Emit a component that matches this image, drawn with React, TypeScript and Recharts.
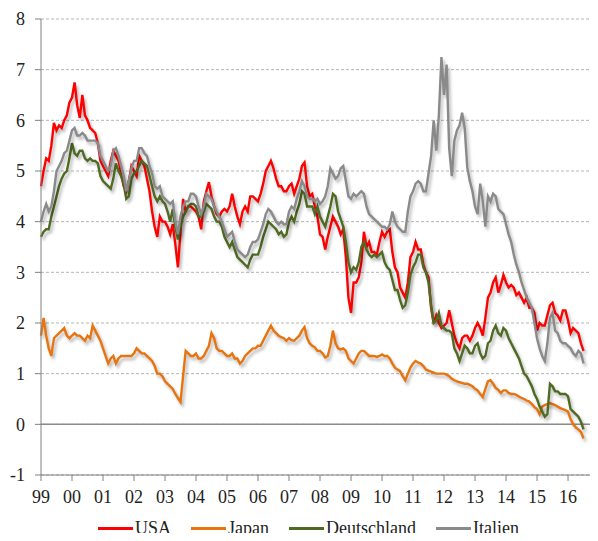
import { LineChart, Line, XAxis, YAxis, CartesianGrid, Legend, ReferenceLine } from 'recharts';

// monthly values, Jan 1999 .. Jul 2016
const usa = [
  4.7, 5.0, 5.25, 5.2, 5.5, 5.95, 5.8, 5.9, 5.85, 6.0, 6.1, 6.35,
  6.45, 6.75, 6.3, 6.05, 6.5, 6.1, 6.0, 5.85, 5.8, 5.75, 5.55, 5.2,
  5.1, 5.0, 4.9, 5.2, 5.4, 5.3, 5.2, 4.95, 4.7, 4.6, 4.8, 5.1,
  5.0, 4.9, 5.3, 5.2, 5.1, 4.85, 4.6, 4.2, 3.9, 3.7, 4.1, 4.0,
  4.0, 3.9, 3.75, 3.95, 3.55, 3.1, 3.8, 4.45, 4.2, 4.3, 4.3, 4.25,
  4.2, 4.1, 3.85, 4.4, 4.6, 4.78, 4.5, 4.3, 4.15, 4.1, 4.2, 4.25,
  4.2, 4.3, 4.55, 4.3, 4.1, 3.95, 4.2, 4.3, 4.2, 4.5, 4.5, 4.45,
  4.4, 4.55, 4.75, 5.0, 5.1, 5.2, 5.05, 4.85, 4.7, 4.7, 4.6, 4.6,
  4.7, 4.75, 4.55, 4.7, 4.85, 5.1, 5.17, 4.7, 4.5, 4.55, 4.3, 4.1,
  3.75, 3.7, 3.45, 3.7, 3.9, 4.1, 4.0, 3.9, 3.75, 3.85, 3.3, 2.5,
  2.2, 2.8, 2.8, 2.9, 3.2, 3.8, 3.5, 3.6, 3.4, 3.4, 3.35, 3.6,
  3.8, 3.7, 3.8, 3.85, 3.4, 3.1, 3.0, 2.7, 2.6, 2.5, 2.8, 3.3,
  3.4, 3.6, 3.45, 3.45, 3.15, 3.0, 2.9, 2.3, 2.0, 2.15, 2.0, 1.9,
  1.95, 2.0, 2.25, 2.0, 1.75, 1.6, 1.5, 1.7, 1.75, 1.75, 1.65, 1.75,
  1.9, 2.0, 1.9, 1.75, 2.1, 2.5, 2.6, 2.8, 2.9, 2.6, 2.75, 2.95,
  2.8, 2.7, 2.75, 2.7, 2.55, 2.6, 2.5, 2.4, 2.5, 2.3, 2.3, 2.2,
  1.85, 2.0, 1.95, 1.95, 2.15, 2.35, 2.4, 2.2, 2.15, 2.05, 2.25, 2.25,
  2.05, 1.8, 1.9, 1.85, 1.8, 1.6, 1.45,
];

const japan = [
  1.75, 2.1, 1.75, 1.5, 1.35, 1.7, 1.75, 1.8, 1.85, 1.9, 1.75, 1.7,
  1.75, 1.8, 1.75, 1.75, 1.7, 1.65, 1.75, 1.7, 1.95, 1.85, 1.75, 1.65,
  1.5, 1.35, 1.2, 1.3, 1.35, 1.2, 1.3, 1.35, 1.35, 1.35, 1.35, 1.35,
  1.4, 1.5, 1.45, 1.4, 1.4, 1.35, 1.3, 1.25, 1.15, 1.0, 1.0, 0.95,
  0.85, 0.8, 0.75, 0.7, 0.6, 0.52, 0.44, 0.95, 1.45, 1.4, 1.35, 1.35,
  1.4, 1.3, 1.3, 1.35, 1.45, 1.55, 1.8, 1.7, 1.5, 1.45, 1.45, 1.4,
  1.35, 1.35, 1.4, 1.3, 1.3, 1.2, 1.25, 1.35, 1.4, 1.45, 1.5, 1.5,
  1.55, 1.55, 1.65, 1.75, 1.85, 1.95, 1.85, 1.8, 1.75, 1.72, 1.7, 1.65,
  1.7, 1.66, 1.65, 1.7, 1.75, 1.85, 1.92, 1.7, 1.6, 1.55, 1.52, 1.45,
  1.45, 1.4, 1.32, 1.35, 1.55, 1.85, 1.6, 1.5, 1.48, 1.5, 1.45, 1.3,
  1.25, 1.2, 1.3, 1.4, 1.45, 1.45, 1.4, 1.35, 1.35, 1.35, 1.33, 1.35,
  1.38, 1.35, 1.35, 1.3, 1.2, 1.12, 1.08, 1.05, 0.95, 0.87, 1.0, 1.12,
  1.2, 1.25, 1.22, 1.2, 1.15, 1.08, 1.06, 1.04, 1.02, 1.0, 1.0, 1.0,
  1.0, 0.98, 0.95, 0.9, 0.87, 0.85, 0.83, 0.82, 0.8, 0.8, 0.78, 0.75,
  0.7, 0.67, 0.6, 0.54, 0.7, 0.85, 0.87, 0.8, 0.72, 0.68, 0.62, 0.67,
  0.67, 0.62, 0.6, 0.6, 0.58, 0.55, 0.52, 0.5, 0.47, 0.45, 0.4, 0.34,
  0.3, 0.2, 0.35, 0.38, 0.4, 0.42, 0.4, 0.38, 0.35, 0.32, 0.3, 0.28,
  0.25, 0.1, 0.0, -0.06, -0.1, -0.15, -0.28,
];

const deutschland = [
  3.7, 3.8, 3.85, 3.85, 4.1, 4.3, 4.5, 4.7, 4.85, 4.95, 5.0, 5.25,
  5.55, 5.35, 5.3, 5.4, 5.4, 5.25, 5.2, 5.25, 5.2, 5.2, 5.15, 4.9,
  4.8, 4.75, 4.7, 4.65, 4.85, 5.15, 5.0, 4.9, 4.75, 4.45, 4.5, 4.85,
  4.95, 5.0, 5.1, 5.2, 5.15, 5.1, 4.9, 4.7, 4.5, 4.4, 4.5, 4.4,
  4.35, 4.2, 4.0, 4.25, 3.9, 3.65, 3.9, 4.1, 4.2, 4.3, 4.35, 4.35,
  4.3, 4.1, 4.1, 4.2, 4.35, 4.3, 4.25, 4.1, 4.0, 4.0, 3.9, 3.7,
  3.6, 3.5, 3.6, 3.45, 3.3, 3.25, 3.2, 3.15, 3.1, 3.25, 3.35, 3.35,
  3.35, 3.5, 3.7, 3.85, 4.0, 3.95, 3.9, 3.85, 3.75, 3.8, 3.7, 3.75,
  4.0, 4.1, 4.0, 4.2, 4.35, 4.6, 4.55, 4.3, 4.3, 4.3, 4.15, 4.3,
  4.1, 4.0, 3.9, 4.1, 4.3, 4.55, 4.5, 4.2, 4.05, 3.9, 3.6, 3.2,
  3.0, 3.1, 3.05, 3.2, 3.5, 3.6, 3.45, 3.35, 3.3, 3.35, 3.3, 3.35,
  3.4, 3.2, 3.1, 3.05, 2.85, 2.65, 2.65, 2.45, 2.3, 2.35, 2.6, 2.95,
  3.1, 3.2, 3.35, 3.35, 3.1, 3.0, 2.8, 2.35, 2.0, 2.05, 2.2, 1.95,
  1.9, 1.85, 1.85, 1.8, 1.5, 1.4, 1.25, 1.4, 1.55, 1.5, 1.4, 1.4,
  1.55, 1.6, 1.4, 1.3, 1.35, 1.6, 1.65, 1.85, 1.95, 1.8, 1.75, 1.9,
  1.85, 1.7, 1.6, 1.5, 1.4, 1.3, 1.15, 1.0, 0.95, 0.85, 0.75, 0.6,
  0.5, 0.35, 0.25, 0.15, 0.2, 0.8, 0.75, 0.65, 0.65, 0.6, 0.6, 0.6,
  0.55, 0.3, 0.25, 0.2, 0.15, 0.05, -0.1,
];

const italien = [
  4.0, 4.2, 4.35, 4.2, 4.3, 4.6, 5.0, 5.1, 5.2, 5.35, 5.4, 5.6,
  5.8, 5.85, 5.7, 5.7, 5.75, 5.7, 5.6, 5.6, 5.6, 5.6, 5.55, 5.3,
  5.2, 5.1, 5.0, 5.1, 5.4, 5.45, 5.3, 5.1, 4.9, 4.6, 4.8, 5.05,
  5.2, 5.2, 5.45, 5.45, 5.35, 5.3, 5.1, 4.95, 4.7, 4.65, 4.7, 4.5,
  4.45, 4.4, 4.35, 4.4, 4.0, 3.75, 4.1, 4.3, 4.4, 4.4, 4.55, 4.55,
  4.5, 4.3, 4.15, 4.3, 4.55, 4.5, 4.45, 4.3, 4.2, 4.1, 4.0, 3.85,
  3.7, 3.75, 3.8, 3.6, 3.45, 3.4, 3.35, 3.3, 3.35, 3.5, 3.6, 3.6,
  3.65, 3.8, 3.95, 4.15, 4.25, 4.2, 4.1, 4.0, 3.95, 4.0, 3.95, 3.95,
  4.2, 4.3, 4.25, 4.45, 4.6, 4.8, 4.7, 4.5, 4.45, 4.45, 4.4, 4.45,
  4.35, 4.4, 4.5, 4.7, 5.05, 4.95, 4.85, 4.9, 5.05, 5.1, 4.8, 4.5,
  4.45, 4.55, 4.5, 4.55, 4.6, 4.55, 4.3, 4.15, 4.1, 4.05, 4.0, 3.95,
  3.9, 3.9, 3.85, 3.95, 4.2, 4.0, 3.9, 3.85, 3.8, 3.8, 4.2, 4.5,
  4.6, 4.75, 4.8, 4.75, 4.6, 4.6, 4.95, 5.3, 6.0, 5.4, 6.1, 7.25,
  6.5, 7.1, 5.45, 4.9, 5.6, 5.8, 5.9, 6.15, 5.85, 5.07, 4.8, 4.6,
  4.3, 4.15, 4.75, 4.4, 3.9, 4.5, 4.4, 4.55, 4.5, 4.25, 4.2, 4.15,
  3.95, 3.75, 3.6, 3.35, 3.15, 3.0, 2.8, 2.65, 2.5, 2.4, 2.3, 2.0,
  1.7, 1.5, 1.35, 1.25, 1.6, 2.1, 2.2, 1.85, 1.8, 1.65, 1.6, 1.6,
  1.55, 1.5, 1.4, 1.35, 1.45, 1.4, 1.2,
];

const yearTicks = [1999, 2000, 2001, 2002, 2003, 2004, 2005, 2006, 2007, 2008, 2009, 2010, 2011, 2012, 2013, 2014, 2015, 2016];
const tickLabels = ['99', '00', '01', '02', '03', '04', '05', '06', '07', '08', '09', '10', '11', '12', '13', '14', '15', '16'];
const yTicks = [-1, 0, 1, 2, 3, 4, 5, 6, 7, 8];

const series = [
  { key: 'usa', name: 'USA', color: '#ff0000' },
  { key: 'japan', name: 'Japan', color: '#e8740f' },
  { key: 'deutschland', name: 'Deutschland', color: '#4f6a22' },
  { key: 'italien', name: 'Italien', color: '#8a8a8a' },
];

const data = usa.map((v, i) => ({
  t: 1999 + i / 12,
  usa: v,
  japan: japan[i],
  deutschland: deutschland[i],
  italien: italien[i],
}));

const font = '"Liberation Serif", "Times New Roman", serif';

function renderLegend() {
  return (
    <div style={{ display: 'flex', justifyContent: 'center', fontFamily: font, fontSize: 18, lineHeight: '18px', color: '#222', paddingLeft: 34 }}>
      {series.map((s) => (
        <div key={s.key} style={{ display: 'flex', alignItems: 'center', marginRight: 20 }}>
          <span style={{ display: 'inline-block', width: 35, height: 3, background: s.color, marginRight: 2 }} />
          <span>{s.name}</span>
        </div>
      ))}
    </div>
  );
}

export default function App() {
  return (
    <div style={{ width: 590, height: 525 }}>
      <style>{'.recharts-line-curve { filter: drop-shadow(2px 3px 1.5px rgba(0,0,0,0.28)); }'}</style>
      <LineChart width={590} height={525} data={data} margin={{ top: 11, right: 3, left: 0, bottom: 0 }}>
        <CartesianGrid vertical={false} stroke="#b4b4b4" strokeDasharray="3 2" />
        <XAxis
          dataKey="t"
          type="number"
          domain={[1999, 2016.87]}
          ticks={yearTicks}
          tickFormatter={(v) => tickLabels[yearTicks.indexOf(v)]}
          interval={0}
          height={40}
          stroke="#808080"
          tickSize={6}
          tickMargin={9}
          tick={{ fill: '#222', fontSize: 18, fontFamily: font }}
        />
        <YAxis
          domain={[-1, 8]}
          ticks={yTicks}
          interval={0}
          width={33}
          stroke="#808080"
          tickSize={6}
          tickMargin={10}
          tick={{ fill: '#222', fontSize: 18, fontFamily: font }}
        />
        <ReferenceLine y={0} stroke="#8c8c8c" strokeWidth={1.5} />
        {series.map((s) => (
          <Line
            key={s.key}
            dataKey={s.key}
            name={s.name}
            stroke={s.color}
            strokeWidth={2.4}
            dot={false}
            type="linear"
            isAnimationActive={false}
          />
        ))}
        <Legend
          verticalAlign="bottom"
          height={18}
          content={renderLegend}
          wrapperStyle={{ top: 511, bottom: 'auto', height: 18 }}
        />
      </LineChart>
    </div>
  );
}
